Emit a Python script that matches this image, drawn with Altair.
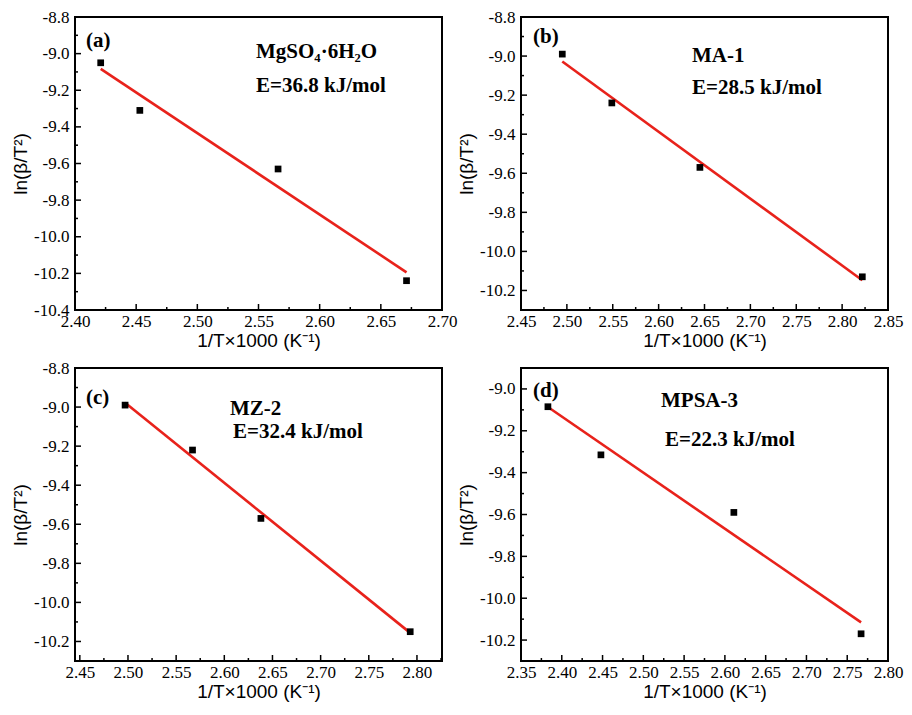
import altair as alt
import pandas as pd

# ---- data ----
a_x = [2.421, 2.453, 2.566, 2.671]
a_y = [-9.05, -9.31, -9.63, -10.24]
b_x = [2.495, 2.549, 2.645, 2.822]
b_y = [-8.99, -9.24, -9.57, -10.13]
c_x = [2.497, 2.567, 2.638, 2.793]
c_y = [-8.99, -9.22, -9.57, -10.15]
d_x = [2.383, 2.448, 2.611, 2.767]
d_y = [-9.085, -9.315, -9.59, -10.17]

tags = ["(a)", "(b)", "(c)", "(d)"]
names = ["MgSO\u2084\u00b76H\u2082O", "MA-1", "MZ-2", "MPSA-3"]
energies = ["E=36.8 kJ/mol", "E=28.5 kJ/mol", "E=32.4 kJ/mol", "E=22.3 kJ/mol"]

a_xticks = [2.40, 2.45, 2.50, 2.55, 2.60, 2.65, 2.70]
a_yticks = [-8.8, -9.0, -9.2, -9.4, -9.6, -9.8, -10.0, -10.2, -10.4]
b_xticks = [2.45, 2.50, 2.55, 2.60, 2.65, 2.70, 2.75, 2.80, 2.85]
b_yticks = [-8.8, -9.0, -9.2, -9.4, -9.6, -9.8, -10.0, -10.2]
c_xticks = [2.45, 2.50, 2.55, 2.60, 2.65, 2.70, 2.75, 2.80]
c_yticks = [-8.8, -9.0, -9.2, -9.4, -9.6, -9.8, -10.0, -10.2]
d_xticks = [2.35, 2.40, 2.45, 2.50, 2.55, 2.60, 2.65, 2.70, 2.75, 2.80]
d_yticks = [-9.0, -9.2, -9.4, -9.6, -9.8, -10.0, -10.2]

W, H = 367, 293
XT = "1/T\u00d71000 (K\u207b\u00b9)"
YT = "ln(\u03b2/T\u00b2)"

AXIS_COMMON = dict(ticks=False, domain=False, grid=False, labelOverlap=False,
                   labelFlush=False, labelFont="Liberation Serif", labelFontSize=17,
                   labelColor="black", titleFont="Liberation Sans", titleFontSize=19,
                   titleFontWeight="normal", titleColor="black")


def minors(ticks, dom):
    step = ticks[1] - ticks[0]
    out = []
    for t in ticks:
        for m in (t - step / 2, t + step / 2):
            m = round(m, 4)
            if min(dom) < m < max(dom) and m not in out:
                out.append(m)
    return out


def panel(xs, ys, xdom, ydom, xticks, yticks, tag, name, energy, pos):
    df = pd.DataFrame({"x": xs, "y": ys})
    xenc = alt.X("x:Q", scale=alt.Scale(domain=xdom, nice=False, zero=False),
                 axis=alt.Axis(values=xticks, title=XT, labelPadding=3, titlePadding=2,
                               labelExpr="format(datum.value, '.2f')", **AXIS_COMMON))
    yenc = alt.Y("y:Q", scale=alt.Scale(domain=ydom, nice=False, zero=False),
                 axis=alt.Axis(values=yticks, title=YT, labelPadding=6, titlePadding=3,
                               labelExpr="replace(format(datum.value, '.1f'), '\u2212', '-')",
                               **AXIS_COMMON))
    pts = alt.Chart(df).mark_square(size=45, color="black", opacity=1).encode(x=xenc, y=yenc)
    fit = alt.Chart(df).transform_regression("x", "y").mark_line(
        color="#e8221b", strokeWidth=2.6).encode(x=xenc, y=yenc)

    ymin = pd.DataFrame({"y": minors(yticks, ydom)})
    ymaj = pd.DataFrame({"y": yticks})
    xmin = pd.DataFrame({"x": minors(xticks, xdom)})
    xmaj = pd.DataFrame({"x": xticks})
    ly1 = alt.Chart(ymaj).mark_rule(color="black", strokeWidth=1.5).encode(
        y=yenc, x=alt.value(0), x2=alt.value(6))
    ly2 = alt.Chart(ymin).mark_rule(color="black", strokeWidth=1.5).encode(
        y=yenc, x=alt.value(0), x2=alt.value(3))
    lx1 = alt.Chart(xmaj).mark_rule(color="black", strokeWidth=1.5).encode(
        x=xenc, y=alt.value(H), y2=alt.value(H - 6))
    lx2 = alt.Chart(xmin).mark_rule(color="black", strokeWidth=1.5).encode(
        x=xenc, y=alt.value(H), y2=alt.value(H - 3))

    texts = []
    for txt, (px, py) in zip([tag, name, energy], pos):
        texts.append(alt.Chart(pd.DataFrame({"t": [txt]})).mark_text(
            font="Liberation Serif", fontWeight="bold", fontSize=21, color="black",
            align="left", baseline="middle").encode(
            text="t:N", x=alt.value(px), y=alt.value(py)))
    return alt.layer(ly1, ly2, lx1, lx2, fit, pts, *texts).properties(width=W, height=H)


pa = panel(a_x, a_y, [2.40, 2.70], [-10.4, -8.8], a_xticks, a_yticks,
           tags[0], names[0], energies[0], [(11, 24), (181, 35), (181, 69)])
pb = panel(b_x, b_y, [2.45, 2.85], [-10.3, -8.8], b_xticks, b_yticks,
           tags[1], names[1], energies[1], [(12, 20), (171, 39), (171, 71)])
pc = panel(c_x, c_y, [2.445, 2.826], [-10.3, -8.8], c_xticks, c_yticks,
           tags[2], names[2], energies[2], [(11, 30), (155, 41), (158, 64)])
pdd = panel(d_x, d_y, [2.35, 2.80], [-10.3, -8.9], d_xticks, d_yticks,
            tags[3], names[3], energies[3], [(12, 23), (140, 33), (144, 72)])

chart = alt.concat(pa, pb, pc, pdd, columns=2, bounds="flush",
                   spacing={"row": 58, "column": 79}
).configure_view(stroke="black", strokeWidth=2).properties(
    padding={"left": 2, "top": -1, "right": 0, "bottom": 0}, background="white")

chart.save("out.html", embed_options={"renderer": "svg", "actions": False})
